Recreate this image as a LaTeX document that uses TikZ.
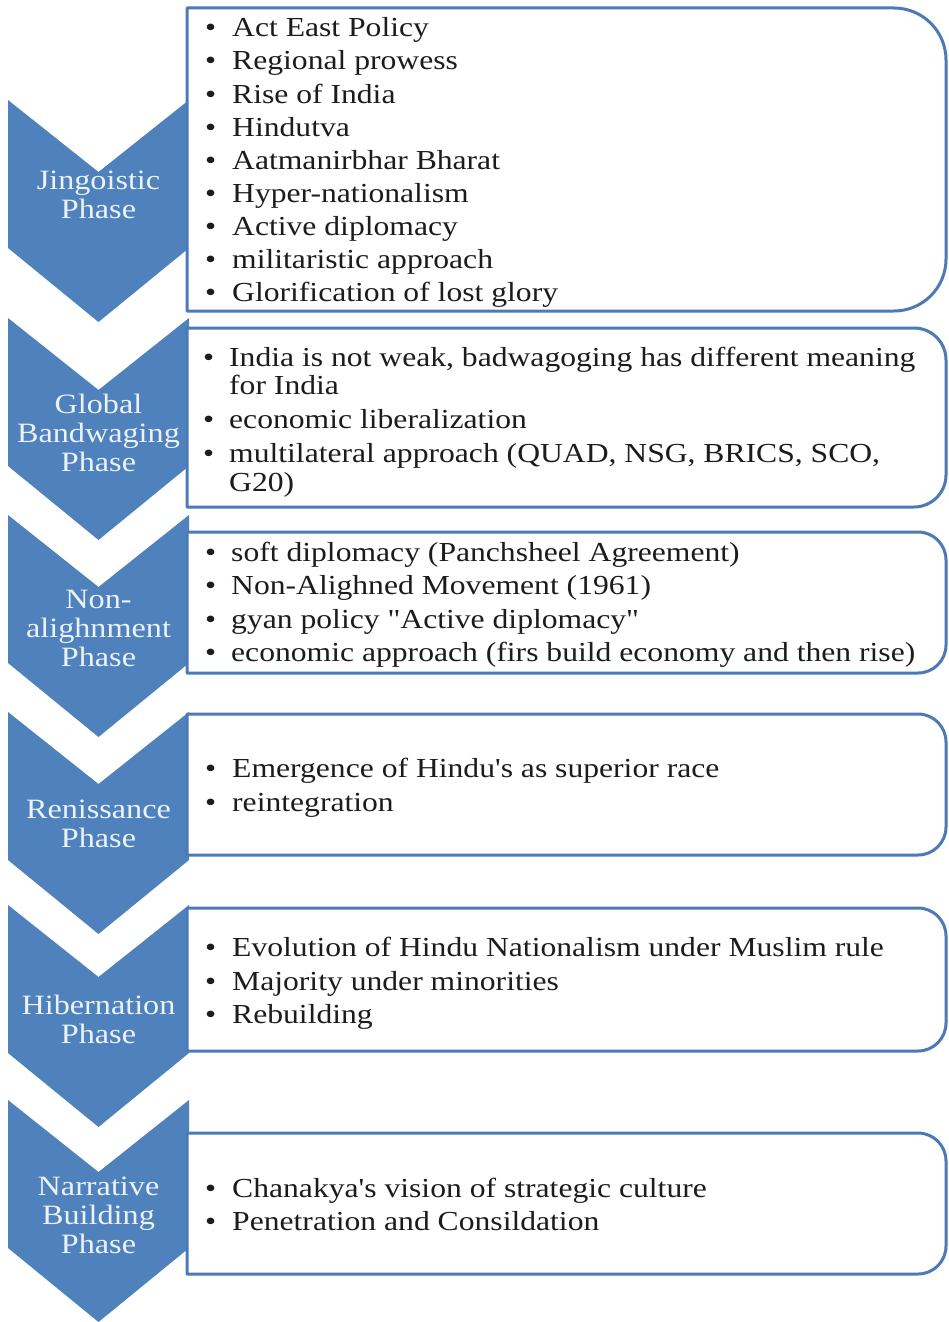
\documentclass[tikz,border=0pt]{standalone}
\usepackage{fontspec}
\setmainfont{Liberation Serif}[FakeStretch=1.15, Ligatures=TeXOff]
\definecolor{chev}{RGB}{79,129,189}
\definecolor{bord}{RGB}{76,122,180}
\definecolor{chevtxt}{RGB}{236,242,250}
\definecolor{txt}{RGB}{28,28,28}
\newcommand\boxfont{\fontsize{27.5}{33}\selectfont}
\newcommand\chevfont{\fontsize{28}{29}\selectfont}
\begin{document}
\begin{tikzpicture}[x=1pt,y=-1pt,
  chevron/.style={fill=chev, draw=none},
  boxline/.style={draw=bord, line width=3pt, fill=white, line join=round},
  chevtext/.style={align=center, font=\chevfont, text=chevtxt, inner sep=0pt},
  item/.style={anchor=base west, inner sep=0pt, font=\boxfont, text=txt},
  bul/.style={anchor=base west, inner sep=0pt, font=\boxfont, text=txt}]
\useasboundingbox (0,0) rectangle (948,1322);
% chevrons
\foreach \T [count=\i] in {100,318,515,712,905,1100} {
  \draw[chevron] (8,\T) -- (98.5,{\T+72}) -- (189,\T) -- (189,{\T+148})
    -- (98.5,{\T+222}) -- (8,{\T+148}) -- cycle;
}
% boxes (square left corners, rounded right corners)
\foreach \ya/\yb/\r in {8/311/52, 328/507/32, 532/673/28, 714/855/28, 908/1051/28, 1133/1274/28} {
  \pgfmathsetmacro\k{0.4477*\r}
  \draw[boxline] (187,\ya) -- ({946-\r},\ya)
    .. controls ({946-\k},\ya) and (946,{\ya+\k}) .. (946,{\ya+\r})
    -- (946,{\yb-\r})
    .. controls (946,{\yb-\k}) and ({946-\k},\yb) .. ({946-\r},\yb)
    -- (187,\yb) -- cycle;
}
% chevron labels
\node[chevtext] (c1) at (98.5,195) {Jingoistic\\Phase};
\node[chevtext] (c2) at (98.5,433) {Global\\Bandwaging\\Phase};
\node[chevtext] (c3) at (98.5,628) {Non-\\alighnment\\Phase};
\node[chevtext] (c4) at (98.5,824) {Renissance\\Phase};
\node[chevtext] (c5) at (98.5,1019) {Hibernation\\Phase};
\node[chevtext] (c6) at (98.5,1215) {Narrative\\Building\\Phase};
% box 1
\foreach \y/\t [count=\i] in {37/{Act East Policy}, 70/{Regional prowess}, 103/{Rise of India},
  136/{Hindutva}, 169/{Aatmanirbhar Bharat}, 202/{Hyper-nationalism},
  235/{Active diplomacy}, 268/{militaristic approach}, 301/{Glorification of lost glory}} {
  \node[bul] (a\i b) at (205,\y) {\textbullet};
  \node[item] (a\i) at (232,\y) {\t};
}
% box 2
\node[bul] (b1b) at (203,366) {\textbullet};
\node[item] (b1) at (229,366) {India is not weak, badwagoging has different meaning};
\node[item] (b1w) at (229,394) {for India};
\node[bul] (b2b) at (203,428) {\textbullet};
\node[item] (b2) at (229,428) {economic liberalization};
\node[bul] (b3b) at (203,462) {\textbullet};
\node[item] (b3) at (229,462) {multilateral approach (QUAD, NSG, BRICS, SCO,};
\node[item] (b3w) at (229,491) {G20)};
% box 3
\foreach \y/\t [count=\i] in {561/{soft diplomacy (Panchsheel Agreement)},
  594/{Non-Alighned Movement (1961)}, 628/{gyan policy "Active diplomacy"},
  661/{economic approach (firs build economy and then rise)}} {
  \node[bul] (n\i b) at (205,\y) {\textbullet};
  \node[item] (n\i) at (231,\y) {\t};
}
% box 4
\foreach \y/\t [count=\i] in {777/{Emergence of Hindu's as superior race}, 811/{reintegration}} {
  \node[bul] (r\i b) at (205,\y) {\textbullet};
  \node[item] (r\i) at (232,\y) {\t};
}
% box 5
\foreach \y/\t [count=\i] in {956/{Evolution of Hindu Nationalism under Muslim rule},
  990/{Majority under minorities}, 1023/{Rebuilding}} {
  \node[bul] (h\i b) at (205,\y) {\textbullet};
  \node[item] (h\i) at (232,\y) {\t};
}
% box 6
\foreach \y/\t [count=\i] in {1197/{Chanakya's vision of strategic culture},
  1230/{Penetration and Consildation}} {
  \node[bul] (k\i b) at (205,\y) {\textbullet};
  \node[item] (k\i) at (232,\y) {\t};
}
\end{tikzpicture}
\end{document}
